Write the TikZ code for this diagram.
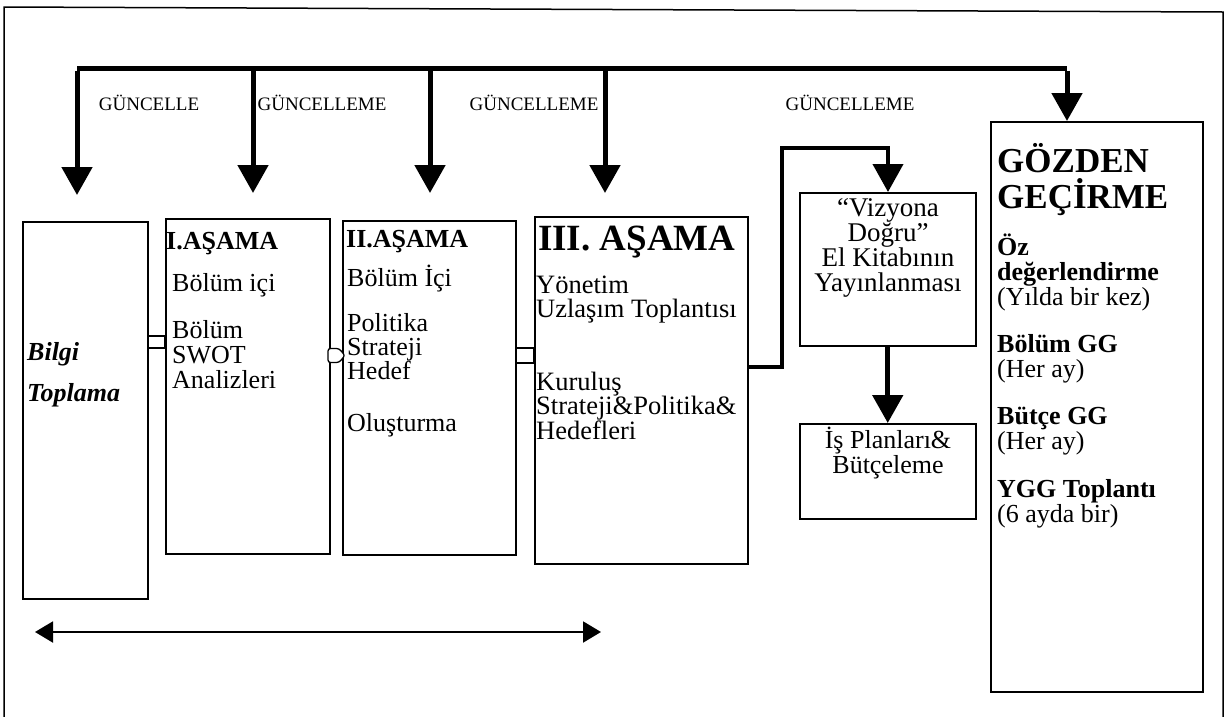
\documentclass[tikz,border=0pt]{standalone}
\usepackage{fontspec}
\setmainfont{Liberation Serif}
\usetikzlibrary{arrows.meta}
\begin{document}
\begin{tikzpicture}[x=1pt,y=-1pt,
  box/.style={draw, line width=1.5pt, anchor=north west, inner sep=0pt},
  body/.style={anchor=mid west, inner sep=0pt, text height=17pt, text depth=5pt,
    yshift=-4.5pt, font=\fontsize{26}{25}\selectfont},
  head/.style={body, font=\fontsize{26}{25}\selectfont\bfseries},
  bighead/.style={anchor=mid west, inner sep=0pt, text height=26pt, text depth=8pt,
    yshift=-6.5pt, font=\fontsize{36}{36}\selectfont\bfseries},
  centred/.style={body, anchor=mid, font=\fontsize{27}{25}\selectfont},
  lbl/.style={anchor=center, inner sep=0pt, font=\fontsize{19}{19}\selectfont},
  feed/.style={line width=5pt, -{Triangle[width=30pt,length=28pt]}},
  link/.style={draw, line width=1.3pt, fill=white},
]
\useasboundingbox (0,0) rectangle (1227,716);

% outer frame
\draw[line width=1.5pt] (4,722) -- (4,7) -- (1223,12) -- (1223,722);

% stage boxes
\node[box, minimum width=125pt, minimum height=377pt] (bilgi) at (22,221) {};
\node[box, minimum width=164pt, minimum height=335pt] (asama1) at (165,218) {};
\node[box, minimum width=173pt, minimum height=334pt] (asama2) at (342,220) {};
\node[box, minimum width=213pt, minimum height=347pt] (asama3) at (534,216) {};
\node[box, minimum width=176pt, minimum height=153pt] (vizyon) at (799,192) {};
\node[box, minimum width=176pt, minimum height=95pt] (isplan) at (799,423) {};
\node[box, minimum width=212pt, minimum height=570pt] (gozden) at (990,121) {};

% update bus with drops
\coordinate (b0) at (77,68);
\coordinate (b1) at (253,68);
\coordinate (b2) at (430,68);
\coordinate (b3) at (605,68);
\coordinate (b4) at (1067,68);
\draw[line width=5pt] (b0) -- (b4);
\coordinate (d0) at (77,195);
\coordinate (d1) at (253,193);
\coordinate (d2) at (430,193);
\coordinate (d3) at (605,193);
\draw[feed] ([yshift=-2.5pt]b0) -- (d0);
\draw[feed] (b1) -- (d1);
\draw[feed] (b2) -- (d2);
\draw[feed] (b3) -- (d3);
\draw[feed] ([yshift=-2.5pt]b4) -- (gozden.north -| b4);

\node[lbl] (g0) at (149,103) {GÜNCELLE};
\node[lbl] (g1) at (322,103) {GÜNCELLEME};
\node[lbl] (g2) at (534,103) {GÜNCELLEME};
\node[lbl] (g3) at (850,103) {GÜNCELLEME};

% small links between stages
\draw[link] (bilgi.east |- 0,336) rectangle (asama1.west |- 0,348);
\draw[link, rounded corners=2.5pt] (328,348.5) -- (339,348.5) -- (345,355.5) -- (339,362.5) -- (328,362.5) -- cycle;
\draw[link] (asama2.east |- 0,348) rectangle (asama3.west |- 0,363);

% route to the handbook box
\coordinate (r1) at (782,367);
\coordinate (r2) at (782,148);
\coordinate (r3) at (888,148);
\draw[line width=4pt, -{Triangle[width=30pt,length=28pt]}]
  (asama3.east |- r1) -- (r1) -- (r2) -- (r3) -- (vizyon.north -| r3);
\draw[feed] (vizyon.south) -- (isplan.north);

% bottom span arrow
\coordinate (s0) at (35,632);
\coordinate (s1) at (601,632);
\draw[line width=2pt, {Triangle[width=21pt,length=18pt]}-{Triangle[width=21pt,length=18pt]}] (s0) -- (s1);

% texts
\node[body, font=\fontsize{26}{25}\selectfont\bfseries\itshape] (tb1) at (27,354) {Bilgi};
\node[body, font=\fontsize{26}{25}\selectfont\bfseries\itshape] (tb2) at (27,395) {Toplama};

\node[head] (t10) at (166,243) {I.AŞAMA};
\node[body] (t11) at (172,285) {Bölüm içi};
\node[body] (t12) at (172,332) {Bölüm};
\node[body] (t13) at (172,357) {SWOT};
\node[body] (t14) at (172,382) {Analizleri};

\node[head] (t20) at (346,241) {II.AŞAMA};
\node[body] (t21) at (347,280) {Bölüm İçi};
\node[body] (t22) at (347,325) {Politika};
\node[body] (t23) at (347,349) {Strateji};
\node[body] (t24) at (347,373) {Hedef};
\node[body] (t25) at (347,425) {Oluşturma};

\node[bighead, font=\fontsize{37}{37}\selectfont\bfseries] (t30) at (538,242) {III. AŞAMA};
\node[body, font=\fontsize{26.5}{25}\selectfont] (t31) at (536,287) {Yönetim};
\node[body, font=\fontsize{26.5}{25}\selectfont] (t32) at (536,311) {Uzlaşım Toplantısı};
\node[body, font=\fontsize{26.5}{25}\selectfont] (t33) at (536,384) {Kuruluş};
\node[body, font=\fontsize{26.5}{25}\selectfont] (t34) at (536,408) {Strateji\&Politika\&};
\node[body, font=\fontsize{26.5}{25}\selectfont] (t35) at (536,433) {Hedefleri};

\node[centred] (tv1) at (888,210) {“Vizyona};
\node[centred] (tv2) at (888,235) {Doğru”};
\node[centred] (tv3) at (888,260) {El Kitabının};
\node[centred] (tv4) at (888,285) {Yayınlanması};

\node[centred, font=\fontsize{26}{25}\selectfont] (ti1) at (888,442) {İş Planları\&};
\node[centred, font=\fontsize{26}{25}\selectfont] (ti2) at (888,467) {Bütçeleme};

\node[bighead, font=\fontsize{35}{36}\selectfont\bfseries] (tg0) at (997,164) {GÖZDEN};
\node[bighead, font=\fontsize{35}{36}\selectfont\bfseries] (tg1) at (997,200) {GEÇİRME};
\node[head] (tg2) at (997,249) {Öz};
\node[head] (tg3) at (997,274) {değerlendirme};
\node[body] (tg4) at (997,299) {(Yılda bir kez)};
\node[head] (tg5) at (997,346) {Bölüm GG};
\node[body] (tg6) at (997,371) {(Her ay)};
\node[head] (tg7) at (997,418) {Bütçe GG};
\node[body] (tg8) at (997,443) {(Her ay)};
\node[head] (tg9) at (997,491) {YGG Toplantı};
\node[body] (tg10) at (997,516) {(6 ayda bir)};
\end{tikzpicture}
\end{document}
